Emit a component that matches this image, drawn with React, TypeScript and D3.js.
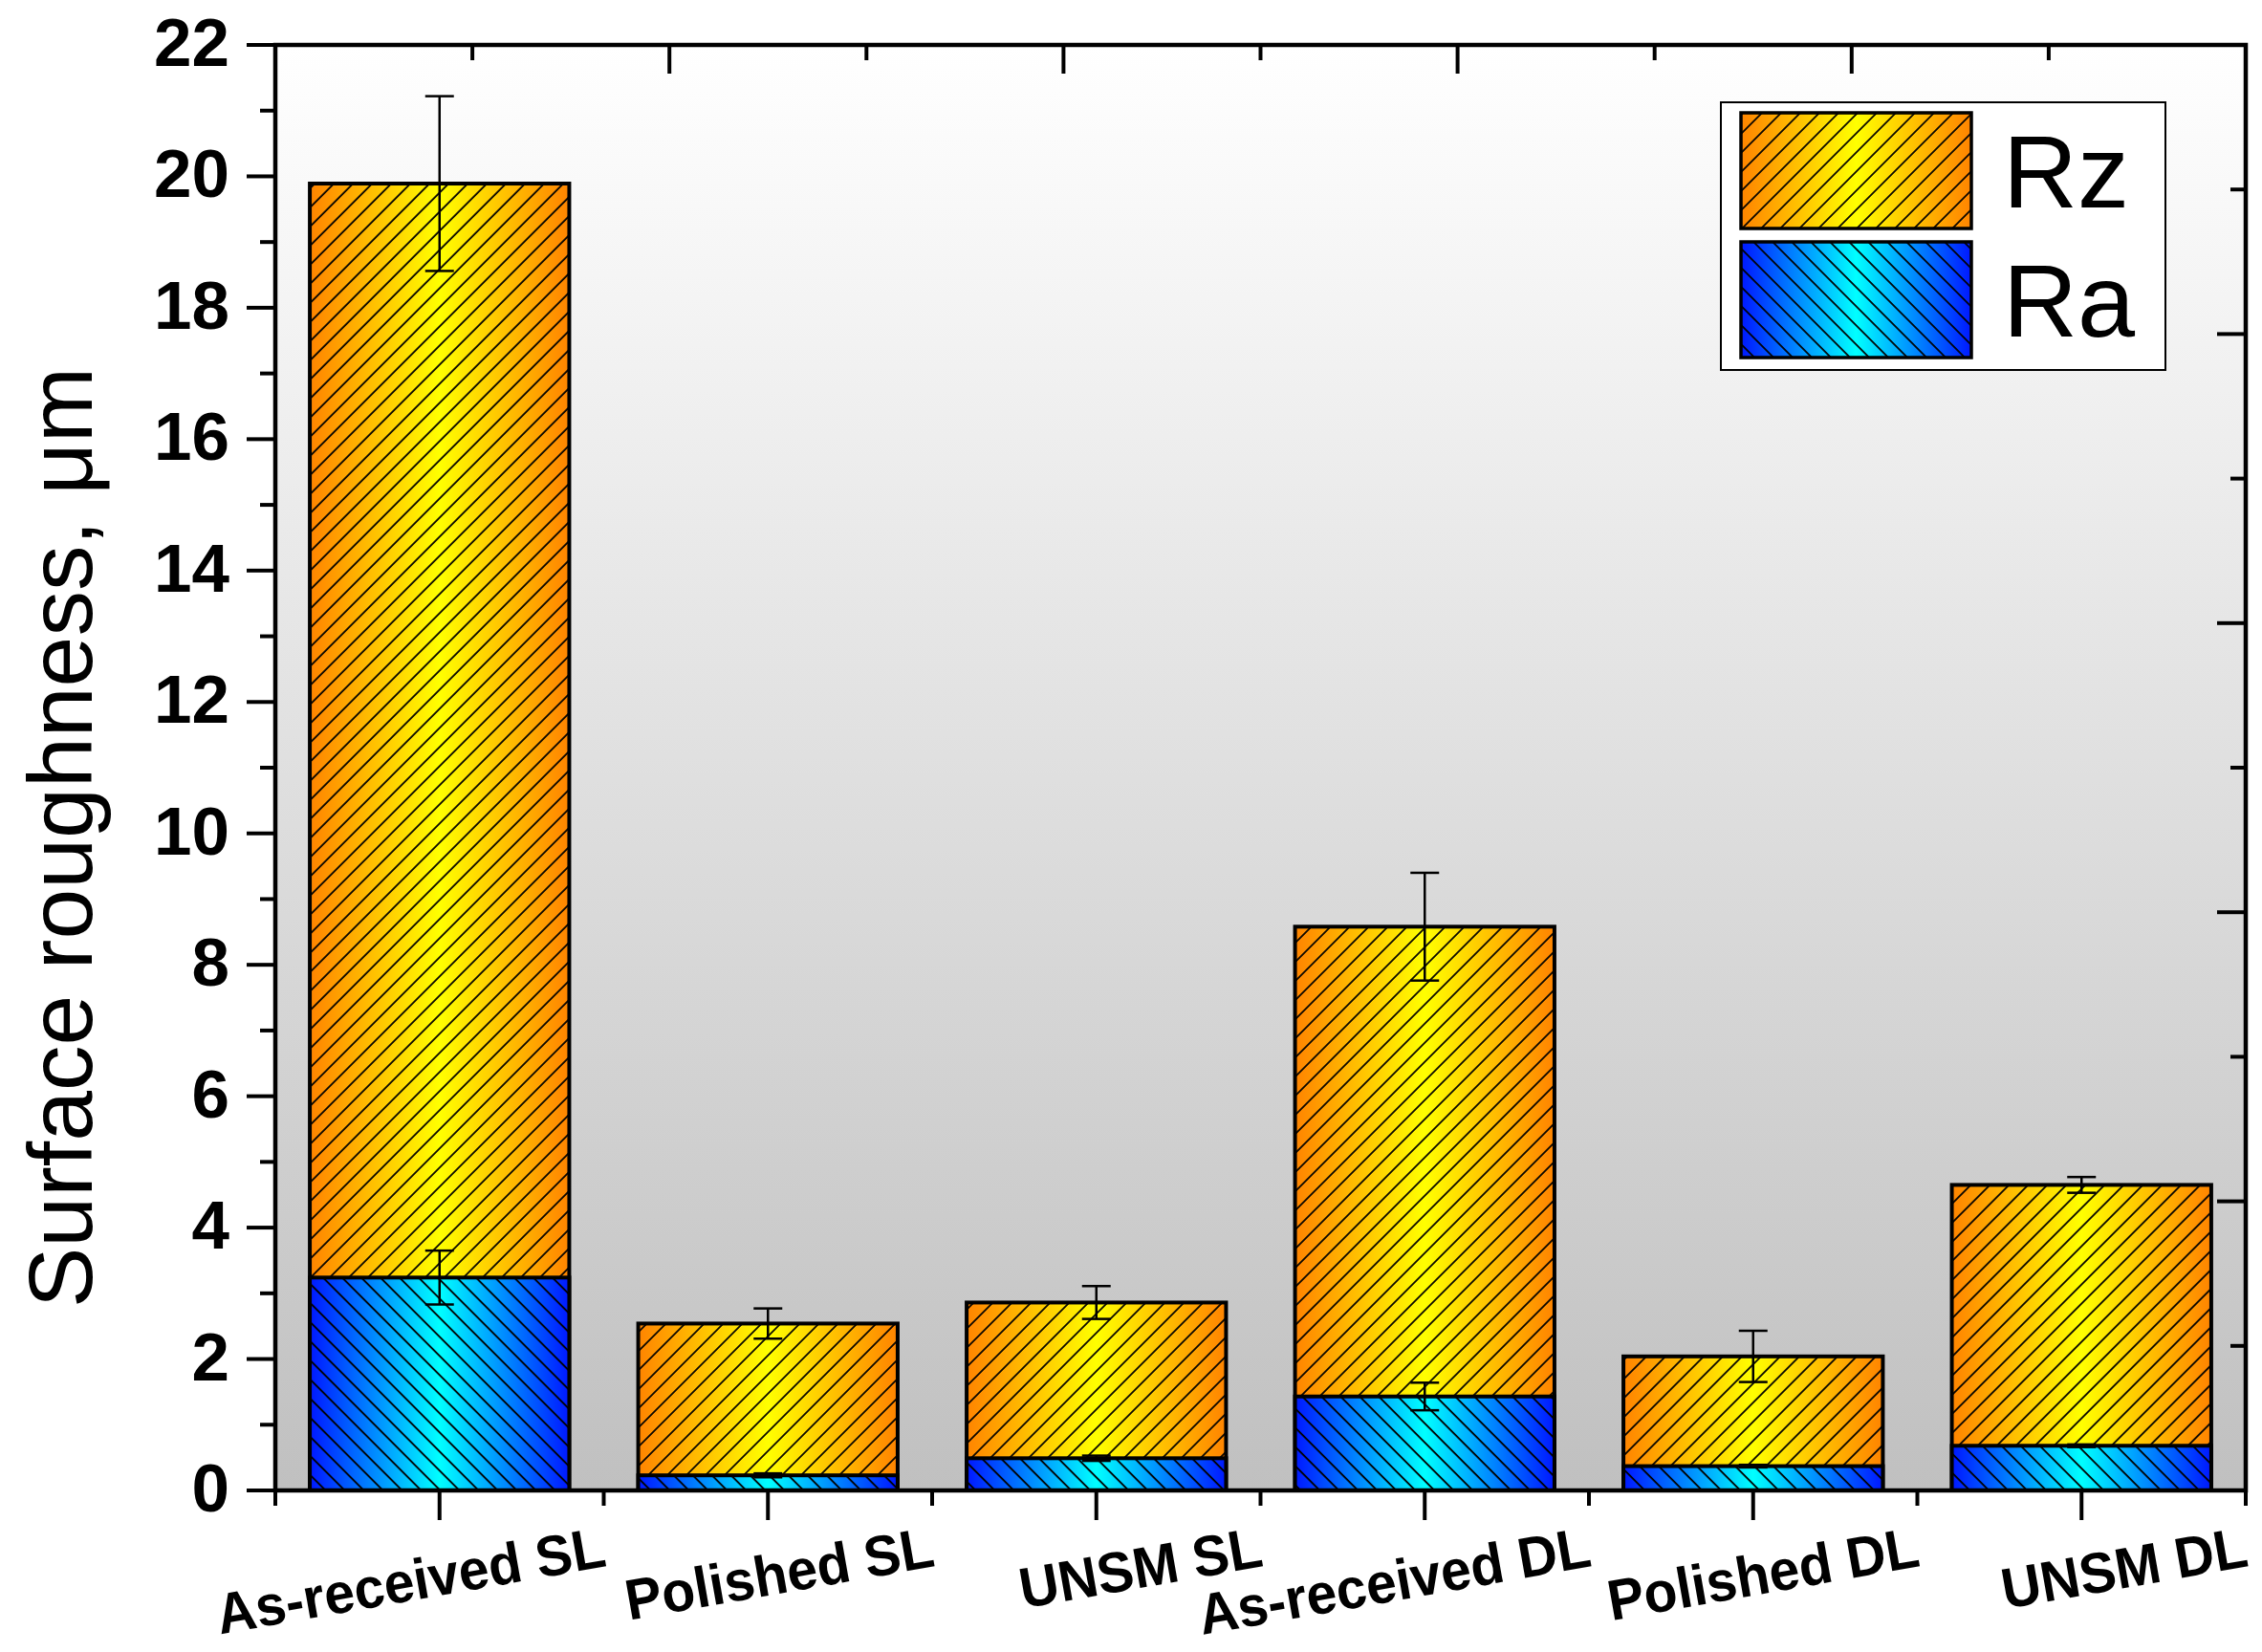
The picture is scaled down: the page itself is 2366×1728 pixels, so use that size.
import React, { useRef, useEffect } from "react";
import * as d3 from "d3";

// surface roughness per specimen (µm)
const categories = [
  "As-received SL",
  "Polished SL",
  "UNSM SL",
  "As-received DL",
  "Polished DL",
  "UNSM DL",
];
const rzValues = [19.89, 2.54, 2.86, 8.58, 2.04, 4.65];
const rzErrors = [1.33, 0.23, 0.25, 0.82, 0.39, 0.12];
const raValues = [3.24, 0.23, 0.49, 1.43, 0.37, 0.68];
const raErrors = [0.41, 0.03, 0.04, 0.21, 0.02, 0.02];
const yTickValues = [0, 2, 4, 6, 8, 10, 12, 14, 16, 18, 20, 22];
const legendLabels = ["Rz", "Ra"];

const W = 2366;
const H = 1728;
const plot = { left: 288, right: 2349, top: 47, bottom: 1559 };
const FONT = "'Liberation Sans', Arial, sans-serif";

const RoughnessChart: React.FC = () => {
  const svgRef = useRef<SVGSVGElement | null>(null);

  useEffect(() => {
    const svg = d3.select(svgRef.current);
    svg.selectAll("*").remove();
    svg.attr("width", W).attr("height", H);

    const defs = svg.append("defs");

    const bg = defs
      .append("linearGradient")
      .attr("id", "bgGrad")
      .attr("x1", 0)
      .attr("y1", 0)
      .attr("x2", 0)
      .attr("y2", 1);
    bg.append("stop").attr("offset", "0%").attr("stop-color", "#ffffff");
    bg.append("stop").attr("offset", "100%").attr("stop-color", "#c0c0c0");

    const sideGrad = (id: string, edge: string, mid: string) => {
      const g = defs
        .append("linearGradient")
        .attr("id", id)
        .attr("x1", 0)
        .attr("y1", 0)
        .attr("x2", 1)
        .attr("y2", 0);
      g.append("stop").attr("offset", "0%").attr("stop-color", edge);
      g.append("stop").attr("offset", "50%").attr("stop-color", mid);
      g.append("stop").attr("offset", "100%").attr("stop-color", edge);
    };
    sideGrad("rzGrad", "#ff8400", "#ffff00");
    sideGrad("raGrad", "#0018ff", "#00ffff");

    const hatch = (id: string, angle: number) => {
      const s = 14.14;
      const p = defs
        .append("pattern")
        .attr("id", id)
        .attr("patternUnits", "userSpaceOnUse")
        .attr("width", s)
        .attr("height", s)
        .attr("patternTransform", `rotate(${angle})`);
      p.append("line")
        .attr("x1", 1)
        .attr("y1", 0)
        .attr("x2", 1)
        .attr("y2", s)
        .attr("stroke", "#000")
        .attr("stroke-width", 1.8);
    };
    hatch("rzHatch", 45);
    hatch("raHatch", -45);

    const x = d3
      .scaleBand<string>()
      .domain(categories)
      .range([plot.left, plot.right])
      .paddingInner(0.21)
      .paddingOuter(0.105);
    const y = d3.scaleLinear().domain([0, 22]).range([plot.bottom, plot.top]);
    const step = x.step();
    const bw = x.bandwidth();
    const cx = (c: string) => (x(c) as number) + bw / 2;

    // plot background
    svg
      .append("rect")
      .attr("x", plot.left)
      .attr("y", plot.top)
      .attr("width", plot.right - plot.left)
      .attr("height", plot.bottom - plot.top)
      .attr("fill", "url(#bgGrad)");

    const drawBars = (vals: number[], grad: string, pat: string) => {
      const g = svg.append("g");
      const sel = g.selectAll("g").data(vals).enter().append("g");
      const attrs = (s: any) =>
        s
          .attr("x", (_: number, i: number) => x(categories[i]) as number)
          .attr("y", (d: number) => y(d))
          .attr("width", bw)
          .attr("height", (d: number) => y(0) - y(d));
      attrs(sel.append("rect")).attr("fill", `url(#${grad})`);
      attrs(sel.append("rect")).attr("fill", `url(#${pat})`);
      attrs(sel.append("rect"))
        .attr("fill", "none")
        .attr("stroke", "#000")
        .attr("stroke-width", 4);
    };
    drawBars(rzValues, "rzGrad", "rzHatch");
    drawBars(raValues, "raGrad", "raHatch");

    const drawErrors = (vals: number[], errs: number[]) => {
      const g = svg.append("g").attr("stroke", "#000").attr("stroke-width", 2.5);
      vals.forEach((v, i) => {
        const c = cx(categories[i]);
        const hi = y(v + errs[i]);
        const lo = y(v - errs[i]);
        g.append("line").attr("x1", c).attr("x2", c).attr("y1", hi).attr("y2", lo);
        g.append("line").attr("x1", c - 15).attr("x2", c + 15).attr("y1", hi).attr("y2", hi);
        g.append("line").attr("x1", c - 15).attr("x2", c + 15).attr("y1", lo).attr("y2", lo);
      });
    };
    drawErrors(rzValues, rzErrors);
    drawErrors(raValues, raErrors);

    // frame
    svg
      .append("rect")
      .attr("x", plot.left)
      .attr("y", plot.top)
      .attr("width", plot.right - plot.left)
      .attr("height", plot.bottom - plot.top)
      .attr("fill", "none")
      .attr("stroke", "#000")
      .attr("stroke-width", 4.5);

    const ticks = svg.append("g").attr("stroke", "#000").attr("stroke-width", 4);

    // left axis ticks (outward)
    d3.range(0, 23).forEach((v) => {
      const len = v % 2 === 0 ? 30 : 16;
      ticks
        .append("line")
        .attr("x1", plot.left - len)
        .attr("x2", plot.left)
        .attr("y1", y(v))
        .attr("y2", y(v));
    });

    // top and right: inward ticks, ten divisions
    const topScale = d3.scaleLinear().domain([0, 10]).range([plot.left, plot.right]);
    const rightScale = d3.scaleLinear().domain([0, 10]).range([plot.bottom, plot.top]);
    d3.range(1, 10).forEach((k) => {
      const len = k % 2 === 0 ? 30 : 16;
      ticks
        .append("line")
        .attr("x1", topScale(k))
        .attr("x2", topScale(k))
        .attr("y1", plot.top)
        .attr("y2", plot.top + len);
      ticks
        .append("line")
        .attr("x1", plot.right - len)
        .attr("x2", plot.right)
        .attr("y1", rightScale(k))
        .attr("y2", rightScale(k));
    });

    // bottom: category ticks + boundaries
    categories.forEach((c) => {
      ticks
        .append("line")
        .attr("x1", cx(c))
        .attr("x2", cx(c))
        .attr("y1", plot.bottom)
        .attr("y2", plot.bottom + 31);
    });
    d3.range(0, categories.length + 1).forEach((i) => {
      const bx = plot.left + i * step;
      ticks
        .append("line")
        .attr("x1", bx)
        .attr("x2", bx)
        .attr("y1", plot.bottom)
        .attr("y2", plot.bottom + 16);
    });

    // y tick labels
    svg
      .append("g")
      .selectAll("text")
      .data(yTickValues)
      .enter()
      .append("text")
      .attr("x", 240)
      .attr("y", (d) => y(d) + 22)
      .attr("text-anchor", "end")
      .attr("font-family", FONT)
      .attr("font-weight", "bold")
      .attr("font-size", 71)
      .text((d) => d);

    // x labels, rotated
    svg
      .append("g")
      .selectAll("text")
      .data(categories)
      .enter()
      .append("text")
      .attr("transform", (c) => `translate(${cx(c) + 176},1638) rotate(-10) scale(1,1.05)`)
      .attr("text-anchor", "end")
      .attr("font-family", FONT)
      .attr("font-weight", "bold")
      .attr("font-size", 57)
      .text((c) => c);

    // y axis title
    svg
      .append("text")
      .attr("transform", "translate(96,876) rotate(-90)")
      .attr("text-anchor", "middle")
      .attr("font-family", FONT)
      .attr("font-size", 95)
      .text("Surface roughness, \u03bcm");

    // legend
    const lg = svg.append("g");
    lg.append("rect")
      .attr("x", 1800)
      .attr("y", 107)
      .attr("width", 465)
      .attr("height", 280)
      .attr("fill", "#fff")
      .attr("stroke", "#000")
      .attr("stroke-width", 2);
    const swatches = [
      { grad: "rzGrad", pat: "rzHatch" },
      { grad: "raGrad", pat: "raHatch" },
    ];
    legendLabels.forEach((lab, i) => {
      const sy = 118 + i * 135;
      [`url(#${swatches[i].grad})`, `url(#${swatches[i].pat})`].forEach((f) =>
        lg
          .append("rect")
          .attr("x", 1821)
          .attr("y", sy)
          .attr("width", 241)
          .attr("height", 121)
          .attr("fill", f)
      );
      lg.append("rect")
        .attr("x", 1821)
        .attr("y", sy)
        .attr("width", 241)
        .attr("height", 121)
        .attr("fill", "none")
        .attr("stroke", "#000")
        .attr("stroke-width", 3.5);
      lg.append("text")
        .attr("x", 2095)
        .attr("y", sy + 99)
        .attr("font-family", FONT)
        .attr("font-size", 108)
        .text(lab);
    });
  }, []);

  return (
    <svg
      ref={svgRef}
      style={{ position: "absolute", left: 0, top: 0, display: "block", background: "#fff" }}
    />
  );
};

export default function App() {
  return <RoughnessChart />;
}
